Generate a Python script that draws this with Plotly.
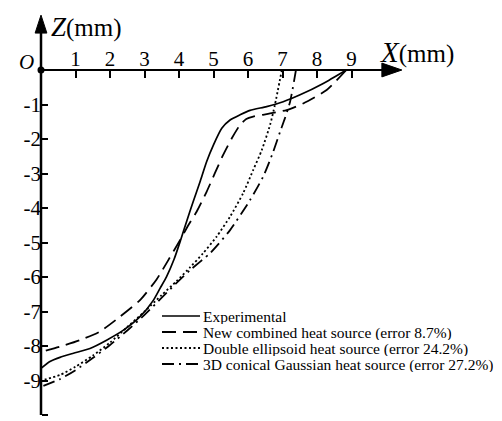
import plotly.graph_objects as go

# ---------------- data (mm) ----------------
exp_x = [8.85, 8.18, 7.51, 7.02, 6.54, 6.06, 5.77, 5.48, 5.24, 5.00, 4.80, 4.61, 4.41, 4.23, 4.05,
         3.86, 3.64, 3.45, 3.26, 2.87, 2.39, 1.90, 1.42, 0.94, 0.55, 0.26, 0.0]
exp_z = [0.0, -0.39, -0.72, -0.92, -1.06, -1.17, -1.30, -1.45, -1.69, -2.17, -2.66, -3.24, -3.82, -4.36, -4.92,
         -5.48, -5.99, -6.33, -6.67, -7.15, -7.54, -7.83, -8.07, -8.21, -8.33, -8.45, -8.65]

new_x = [8.85, 8.28, 7.60, 7.12, 6.64, 6.15, 5.95, 5.77, 5.53, 5.28, 5.04, 4.80, 4.51, 4.27, 4.03, 3.69,
         3.35, 2.87, 2.29, 1.71, 1.13, 0.55, 0.0]
new_z = [0.0, -0.58, -0.97, -1.16, -1.26, -1.35, -1.42, -1.59, -1.98, -2.46, -2.99, -3.53, -4.11, -4.50, -4.93, -5.51,
         -6.07, -6.67, -7.15, -7.58, -7.83, -8.02, -8.17]

dbl_x = [6.98, 6.78, 6.64, 6.40, 6.15, 5.86, 5.48, 5.09, 4.70, 4.32, 3.93, 3.50, 3.00, 2.50, 2.00,
         1.50, 1.00, 0.55, 0.0]
dbl_z = [0.0, -1.01, -1.59, -2.32, -2.90, -3.57, -4.25, -4.83, -5.31, -5.72, -6.12, -6.52, -7.00, -7.45, -7.90,
         -8.28, -8.60, -8.84, -9.00]

con_x = [7.39, 7.22, 7.07, 6.93, 6.72, 6.44, 6.06, 5.48, 4.90, 4.32, 3.90, 3.50, 3.00, 2.50, 2.00,
         1.50, 1.00, 0.55, 0.0]
con_z = [0.0, -0.92, -1.40, -1.79, -2.40, -3.09, -3.77, -4.64, -5.31, -5.80, -6.20, -6.60, -7.10, -7.55, -7.97,
         -8.35, -8.70, -8.96, -9.18]

series_names = ["Experimental",
                "New combined heat source (error 8.7%)",
                "Double ellipsoid heat source (error 24.2%)",
                "3D conical Gaussian heat source (error 27.2%)"]

x_ticks = [1, 2, 3, 4, 5, 6, 7, 8, 9]
z_ticks = [-1, -2, -3, -4, -5, -6, -7, -8, -9, -10]
x_tick_text = [str(v) for v in x_ticks]
z_tick_text = ["-" + str(abs(v)) for v in z_ticks]

# ---------------- layout constants ----------------
W, H = 502, 421
PX = 34.5            # pixels per mm
OX, OY = 41, 70      # origin in pixels
XR = [-OX / PX, (W - OX) / PX]
YR = [-(H - OY) / PX, OY / PX]
SERIF = "Liberation Serif"

dashes = ["solid", "14px,7px", "2px,2.5px", "12px,5px,2px,5px"]
widths = [1.7, 1.8, 1.8, 1.8]

fig = go.Figure()
for xs, zs, nm, d, w in zip([exp_x, new_x, dbl_x, con_x], [exp_z, new_z, dbl_z, con_z],
                            series_names, dashes, widths):
    fig.add_trace(go.Scatter(x=xs, y=zs, mode="lines", name=nm, showlegend=False,
                             line=dict(color="black", width=w, dash=d, shape="spline", smoothing=0.6)))

# origin dot
fig.add_trace(go.Scatter(x=[0], y=[0], mode="markers", showlegend=False, cliponaxis=False,
                         marker=dict(color="black", size=7)))

# axis lines with arrows
x_end = 10.46
z_end = 1.59
ah_len_x, ah_half_x = 0.58, 0.2
ah_len_z, ah_half_z = 0.52, 0.17
shapes = [
    dict(type="line", xref="x", yref="y", x0=0, y0=0, x1=x_end - ah_len_x + 0.05, y1=0,
         line=dict(color="black", width=2)),
    dict(type="line", xref="x", yref="y", x0=0, y0=min(z_ticks), x1=0, y1=z_end - ah_len_z + 0.05,
         line=dict(color="black", width=2.5)),
    dict(type="path", xref="x", yref="y",
         path=f"M {x_end - ah_len_x} {-ah_half_x} L {x_end} 0 L {x_end - ah_len_x} {ah_half_x} Z",
         fillcolor="black", line=dict(color="black", width=1)),
    dict(type="path", xref="x", yref="y",
         path=f"M {-ah_half_z} {z_end - ah_len_z} L 0 {z_end} L {ah_half_z} {z_end - ah_len_z} Z",
         fillcolor="black", line=dict(color="black", width=1)),
]

# manual legend
leg_rows = [316, 332, 348, 364]
leg_x0, leg_x1, leg_tx = 162, 200, 202
annotations = []
for nm, d, w, ry in zip(series_names, dashes, widths, leg_rows):
    yp = 1 - ry / H
    shapes.append(dict(type="line", xref="paper", yref="paper", x0=leg_x0 / W, x1=leg_x1 / W,
                       y0=yp, y1=yp, line=dict(color="black", width=w, dash=d)))
    annotations.append(dict(xref="paper", yref="paper", x=leg_tx / W, y=yp, text=nm, showarrow=False,
                            xanchor="left", yanchor="middle", height=15, borderpad=0,
                            font=dict(family=SERIF, size=15.5, color="black")))

# axis titles and origin label
annotations += [
    dict(xref="x", yref="y", x=0, y=0, text="<i>O</i>", showarrow=False, xanchor="right", yanchor="bottom",
         xshift=-5, yshift=-6, font=dict(family=SERIF, size=21, color="black")),
    dict(xref="x", yref="y", x=0, y=(OY - 27) / PX, text="<i>Z</i><span style='font-size:25px'>(mm)</span>",
         showarrow=False, xanchor="left", yanchor="middle", xshift=8,
         font=dict(family=SERIF, size=27, color="black")),
    dict(xref="x", yref="y", x=(378 - OX) / PX, y=(OY - 52) / PX,
         text="<i>X</i><span style='font-size:25px'>(mm)</span>",
         showarrow=False, xanchor="left", yanchor="middle",
         font=dict(family=SERIF, size=29, color="black")),
]

tickfont = dict(family=SERIF, size=21, color="black")
fig.update_layout(
    width=W, height=H, margin=dict(l=0, r=0, t=0, b=0),
    paper_bgcolor="white", plot_bgcolor="white", showlegend=False,
    xaxis=dict(range=XR, domain=[0, 1], anchor="free", position=(0 - YR[0]) / (YR[1] - YR[0]),
               side="top", tickvals=x_ticks, ticktext=x_tick_text, ticks="inside", ticklen=7,
               tickwidth=1.5, tickcolor="black", showline=False, showgrid=False, zeroline=False,
               tickfont=tickfont),
    yaxis=dict(range=YR, domain=[0, 1], anchor="free", position=(0 - XR[0]) / (XR[1] - XR[0]),
               side="left", tickvals=z_ticks, ticktext=z_tick_text, ticks="inside", ticklen=6,
               tickwidth=1.5, tickcolor="black", showline=False, showgrid=False, zeroline=False,
               tickfont=tickfont),
    shapes=shapes, annotations=annotations,
)

fig.write_html("out.html")
